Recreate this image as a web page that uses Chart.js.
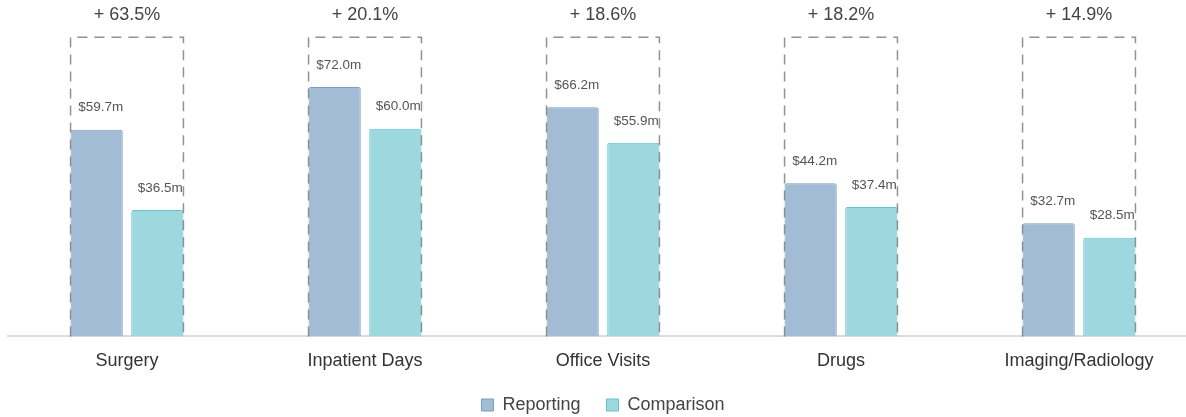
<!DOCTYPE html>
<html>
<head>
<meta charset="utf-8">
<script src="https://cdn.jsdelivr.net/npm/chart.js@4/dist/chart.umd.min.js"></script>
<style>
  html, body { margin: 0; padding: 0; background: #fff; overflow: hidden; }
  #wrap { width: 1198px; height: 424px; }
</style>
</head>
<body>
<div id="wrap"><canvas id="spendChart"></canvas></div>
<script>
// Categories and spend per period ($m)
const categories = ['Surgery', 'Inpatient Days', 'Office Visits', 'Drugs', 'Imaging/Radiology'];
const reporting = [59.7, 72.0, 66.2, 44.2, 32.7];
const comparison = [36.5, 60.0, 55.9, 37.4, 28.5];
const pctChange = ['+ 63.5%', '+ 20.1%', '+ 18.6%', '+ 18.2%', '+ 14.9%'];

const FONT = '"Liberation Sans", Arial, sans-serif';

// Dashed frame height, relative to the tallest bar
const frameTop = Math.max(...reporting, ...comparison) * 1.2;

// Draws dashed frame, change % and value labels for each group
const groupFrames = {
    id: 'groupFrames',
    afterDatasetsDraw(chart) {
        const ctx = chart.ctx;
        const y = chart.scales.y;
        const m0 = chart.getDatasetMeta(0);
        const m1 = chart.getDatasetMeta(1);
        const base = y.getPixelForValue(0);
        const top = y.getPixelForValue(frameTop);

        ctx.save();
        categories.forEach((cat, i) => {
            const b0 = m0.data[i];
            const b1 = m1.data[i];
            const left = b0.x - b0.width / 2;
            const right = b1.x + b1.width / 2;

            ctx.strokeStyle = 'rgba(110,110,110,0.75)';
            ctx.lineWidth = 1.5;
            ctx.setLineDash([10, 7]);
            ctx.beginPath();
            ctx.moveTo(left, base);
            ctx.lineTo(left, top);
            ctx.lineTo(right, top);
            ctx.lineTo(right, base);
            ctx.stroke();
            ctx.setLineDash([]);

            ctx.fillStyle = '#444';
            ctx.font = '18px ' + FONT;
            ctx.textAlign = 'center';
            ctx.textBaseline = 'middle';
            ctx.fillText(pctChange[i], (left + right) / 2, top - 22);

            ctx.fillStyle = '#555';
            ctx.font = '13.5px ' + FONT;
            ctx.fillText('$' + reporting[i].toFixed(1) + 'm', b0.x + 4, b0.y - 22);
            ctx.fillText('$' + comparison[i].toFixed(1) + 'm', b1.x + 3, b1.y - 22);
        });
        ctx.restore();
    }
};

document.addEventListener('DOMContentLoaded', function() {
    const ctx = document.getElementById('spendChart').getContext('2d');
    new Chart(ctx, {
        type: 'bar',
        data: {
            labels: categories,
            datasets: [{
                label: 'Reporting',
                data: reporting,
                backgroundColor: '#a3bcd6',
                borderColor: '#7b9dc4',
                borderWidth: 1,
                borderRadius: 2,
                borderSkipped: 'bottom'
            }, {
                label: 'Comparison',
                data: comparison,
                backgroundColor: '#9dd8df',
                borderColor: '#63c3cc',
                borderWidth: 1,
                borderRadius: 2,
                borderSkipped: 'bottom'
            }]
        },
        options: {
            responsive: true,
            maintainAspectRatio: false,
            animation: false,
            categoryPercentage: 0.51,
            barPercentage: 0.86,
            layout: { padding: { left: 8, right: 0, top: 4, bottom: 0 } },
            plugins: {
                tooltip: { enabled: false },
                legend: {
                    position: 'bottom',
                    labels: {
                        boxWidth: 12,
                        boxHeight: 12,
                        padding: 26,
                        color: '#444',
                        font: { size: 18, family: FONT }
                    }
                }
            },
            scales: {
                x: {
                    grid: { display: false, drawTicks: false },
                    border: { color: '#dcdcdc', width: 2 },
                    ticks: {
                        padding: 14,
                        color: '#333',
                        font: { size: 18, family: FONT }
                    },
                    // pull the legend up closer to the category labels
                    afterFit(scale) {
                        scale.height -= 16;
                    }
                },
                y: {
                    display: false,
                    min: 0,
                    max: 96
                }
            }
        },
        plugins: [groupFrames]
    });
});
</script>
</body>
</html>
